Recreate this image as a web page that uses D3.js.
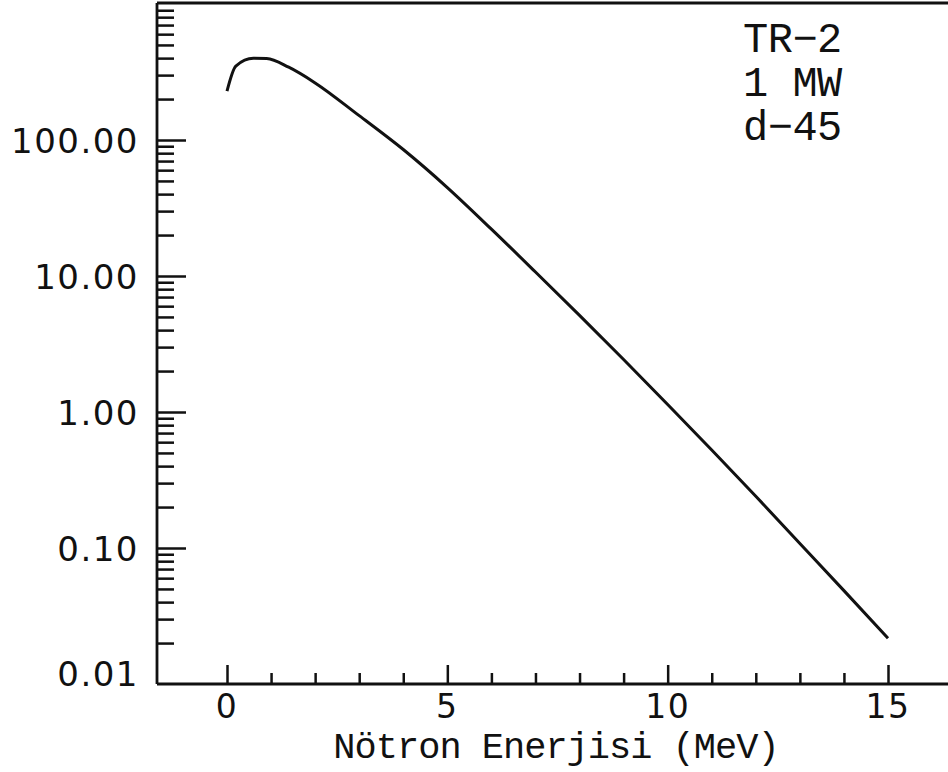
<!DOCTYPE html>
<html>
<head>
<meta charset="utf-8">
<script src="https://cdn.jsdelivr.net/npm/d3@7"></script>
<style>
  body { margin: 0; background: #fff; }
  svg { display: block; }
</style>
</head>
<body>
<svg></svg>
<script>
// neutron spectrum
const energy = [0, 0.2, 0.6, 0.9, 1.4, 2, 3, 4, 5, 6, 7, 8, 9, 10, 11, 12, 13, 14, 15];
const flux = [229, 350, 399, 397, 343, 263, 151, 85.1, 44.7, 22.1, 10.7, 5.13, 2.43, 1.135, 0.525, 0.240, 0.108, 0.0486, 0.0217];

const yMajor = [0.01, 0.1, 1, 10, 100];
const yLabels = ['0.01', '0.10', '1.00', '10.00', '100.00'];
const xTicks = [0, 1, 2, 3, 4, 5, 6, 7, 8, 9, 10, 11, 12, 13, 14, 15];
const xLabels = [0, 5, 10, 15];
const notes = ['TR\u22122', '1 MW', 'd\u221245'];

const svgWidth = 948;
const svgHeight = 772;
const axisX = 157;
const axisY = 684;
const ink = '#111';

const svg = d3.select('svg')
    .attr('width', svgWidth)
    .attr('height', svgHeight);

const xScale = d3.scaleLinear()
    .domain([0, 15])
    .range([227, 888]);

const yScale = d3.scaleLog()
    .domain([0.01, 1000])
    .range([axisY, 4]);

const data = energy.map((e, i) => ({ e: e, v: flux[i] }));

// frame lines (left, bottom, top)
svg.append('line')
    .attr('x1', axisX).attr('x2', axisX)
    .attr('y1', 3).attr('y2', axisY)
    .attr('stroke', ink).attr('stroke-width', 2.8);
svg.append('line')
    .attr('x1', axisX).attr('x2', svgWidth)
    .attr('y1', axisY).attr('y2', axisY)
    .attr('stroke', ink).attr('stroke-width', 2.8);
svg.append('line')
    .attr('x1', axisX).attr('x2', svgWidth)
    .attr('y1', 3).attr('y2', 3)
    .attr('stroke', ink).attr('stroke-width', 2.8);

// y ticks, pointing inward
const minorY = yScale.ticks().filter(t => !yMajor.includes(t) && t < 1000);
const yMinorAxis = svg.append('g')
    .attr('transform', `translate(${axisX}, 0)`)
    .call(d3.axisRight(yScale).tickValues(minorY).tickSize(17).tickFormat(''));
const yMajorAxis = svg.append('g')
    .attr('transform', `translate(${axisX}, 0)`)
    .call(d3.axisRight(yScale).tickValues(yMajor.slice(1)).tickSize(29).tickFormat(''));
[yMinorAxis, yMajorAxis].forEach(g => {
    g.select('.domain').remove();
    g.selectAll('line').attr('stroke', ink).attr('stroke-width', 2.5);
});

svg.selectAll('.ylabel')
    .data(yMajor)
    .enter().append('text')
    .attr('class', 'ylabel')
    .attr('x', 139)
    .attr('y', (d, i) => yScale(d) + (i === 0 ? -10 : 1))
    .attr('dy', '0.36em')
    .attr('text-anchor', 'end')
    .attr('font-family', 'DejaVu Sans, sans-serif')
    .attr('font-size', '34px')
    .attr('letter-spacing', '1.5px')
    .attr('fill', ink)
    .text((d, i) => yLabels[i]);

// x ticks
const xMinorAxis = svg.append('g')
    .attr('transform', `translate(0, ${axisY})`)
    .call(d3.axisTop(xScale).tickValues(xTicks.filter(t => !xLabels.includes(t))).tickSize(11).tickFormat(''));
const xMajorAxis = svg.append('g')
    .attr('transform', `translate(0, ${axisY})`)
    .call(d3.axisTop(xScale).tickValues(xLabels).tickSize(19).tickFormat(''));
[xMinorAxis, xMajorAxis].forEach(g => {
    g.select('.domain').remove();
    g.selectAll('line').attr('stroke', ink).attr('stroke-width', 2.5);
});

svg.selectAll('.xlabel')
    .data(xLabels)
    .enter().append('text')
    .attr('class', 'xlabel')
    .attr('x', d => xScale(d))
    .attr('y', 718)
    .attr('text-anchor', 'middle')
    .attr('font-family', 'DejaVu Sans, sans-serif')
    .attr('font-size', '33px')
    .attr('letter-spacing', '1.5px')
    .attr('fill', ink)
    .text(d => d);

svg.append('text')
    .attr('x', 556)
    .attr('y', 758)
    .attr('text-anchor', 'middle')
    .attr('font-family', 'Liberation Mono, Courier New, monospace')
    .attr('font-size', '37px')
    .attr('letter-spacing', '-1px')
    .attr('fill', ink)
    .text('Nötron Enerjisi (MeV)');

// the spectrum
const line = d3.line()
    .x(d => xScale(d.e))
    .y(d => yScale(d.v))
    .curve(d3.curveMonotoneX);

svg.append('path')
    .datum(data)
    .attr('fill', 'none')
    .attr('stroke', ink)
    .attr('stroke-width', 3)
    .attr('stroke-linejoin', 'round')
    .attr('d', line);

// notes at top right
svg.selectAll('.note')
    .data(notes)
    .enter().append('text')
    .attr('class', 'note')
    .attr('x', 743)
    .attr('y', (d, i) => 52 + i * 44)
    .attr('font-family', 'Liberation Mono, Courier New, monospace')
    .attr('font-size', '42px')
    .attr('letter-spacing', '-0.5px')
    .attr('fill', ink)
    .text(d => d);
</script>
</body>
</html>
